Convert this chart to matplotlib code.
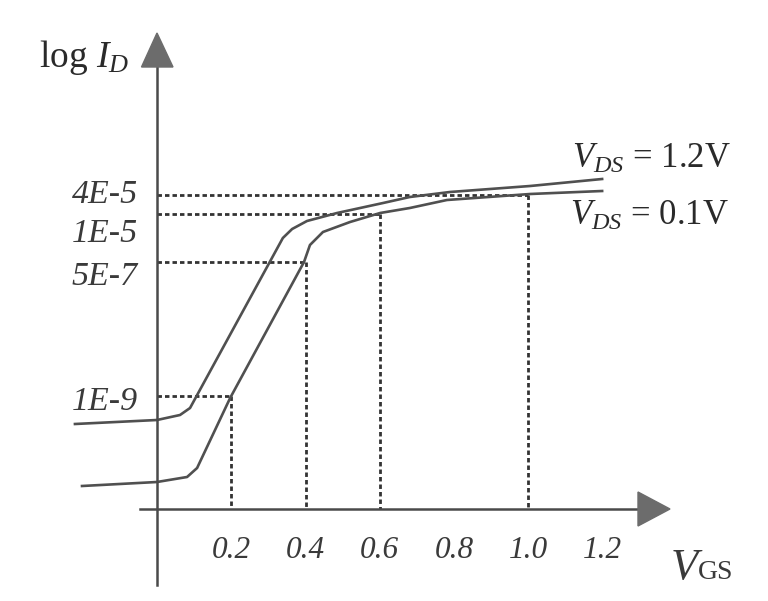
import matplotlib
matplotlib.use("Agg")
import matplotlib.pyplot as plt
from matplotlib.patches import Polygon

plt.rcParams['mathtext.fontset'] = 'custom'
plt.rcParams['mathtext.rm'] = 'Liberation Serif'
plt.rcParams['mathtext.it'] = 'Liberation Serif:italic'
plt.rcParams['font.family'] = ['Liberation Serif', 'DejaVu Serif']

# ---- data (schematic transfer curves) ----
vgs_hi = [-0.221, 0.0, 0.062, 0.089, 0.339, 0.364, 0.404, 0.485, 0.609, 0.681, 0.789, 1.005, 1.199]
lvl_hi = [0.85, 0.89, 0.94, 1.01, 2.71, 2.80, 2.88, 2.96, 3.06, 3.12, 3.17, 3.23, 3.30]
vgs_lo = [-0.202, 0.0, 0.081, 0.108, 0.197, 0.396, 0.412, 0.447, 0.520, 0.601, 0.681, 0.781, 1.005, 1.199]
lvl_lo = [0.23, 0.27, 0.32, 0.41, 1.11, 2.47, 2.64, 2.77, 2.87, 2.96, 3.01, 3.09, 3.15, 3.18]

# guide lines: current level reached at a given VGS
guide_vgs = [1.0, 0.6, 0.4, 0.2]
guide_lvl = [3.14, 2.95, 2.47, 1.13]
guide_labels = ['4E-5', '1E-5', '5E-7', '1E-9']
guide_label_pos = [3.06, 2.67, 2.24, 0.99]

xtick_vals = [0.2, 0.4, 0.6, 0.8, 1.0, 1.2]
xtick_labels = ['0.2', '0.4', '0.6', '0.8', '1.0', '1.2']

# ---- layout helpers (pixel -> data) ----
SX = 371.25
def X(px):
    return (px - 157) / SX
def Y(py):
    return (509 - py) / 100.0

fig = plt.figure(figsize=(7.68, 6.01), dpi=100)
ax = fig.add_axes([0, 0, 1, 1])
ax.set_xlim(X(0), X(768))
ax.set_ylim(Y(601), Y(0))
ax.axis('off')

axis_col = '#4a4a4a'
head_col = '#6c6c6c'
curve_col = '#505050'
dash_col = '#333333'
text_col = '#2a2a2a'

# guide dashed lines
for v, l in zip(guide_vgs, guide_lvl):
    ax.plot([0, v], [l, l], color=dash_col, lw=2.0, linestyle=(0, (1.6, 1.1)), zorder=2)
    ax.plot([v, v], [l, 0], color=dash_col, lw=2.0, linestyle=(0, (1.6, 1.1)), zorder=2)

# curves
ax.plot(vgs_hi, lvl_hi, color=curve_col, lw=1.9, zorder=3, solid_joinstyle='round')
ax.plot(vgs_lo, lvl_lo, color=curve_col, lw=1.9, zorder=3, solid_joinstyle='round')

# axes
ax.plot([0, 0], [Y(585), Y(66)], color=axis_col, lw=1.8, zorder=4)
ax.plot([X(140), X(639)], [0, 0], color=axis_col, lw=1.8, zorder=4)
ax.add_patch(Polygon([(X(141.5), Y(67)), (X(157), Y(33)), (X(173), Y(67))],
                     closed=True, color=head_col, zorder=5))
ax.add_patch(Polygon([(X(638), Y(492)), (X(670), Y(509)), (X(638), Y(526))],
                     closed=True, color=head_col, zorder=5))

# y labels
for lab, pos in zip(guide_labels, guide_label_pos):
    ax.text(X(138), pos, lab, fontsize=24.5, style='italic', ha='right', va='baseline',
            color='#3a3a3a')

# x tick labels
for v, lab in zip(xtick_vals, xtick_labels):
    ax.text(v, Y(558), lab, fontsize=22.5, style='italic', ha='center', va='baseline',
            color='#3a3a3a')

# axis titles
ax.text(X(39), Y(67), r'log $I_{D}$', fontsize=27, ha='left', va='baseline', color=text_col)
ax.text(X(671), Y(579), 'V', fontsize=32, style='italic', ha='left', va='baseline', color='#3a3a3a')
ax.text(X(698), Y(579), 'GS', fontsize=20, ha='left', va='baseline', color='#3a3a3a')

# curve labels
ax.text(X(572), Y(168), r'$V_{DS}$ = 1.2V', fontsize=25, ha='left', va='baseline', color=text_col)
ax.text(X(570), Y(225), r'$V_{DS}$ = 0.1V', fontsize=25, ha='left', va='baseline', color=text_col)

fig.savefig('out.png', dpi=100, facecolor='white')
